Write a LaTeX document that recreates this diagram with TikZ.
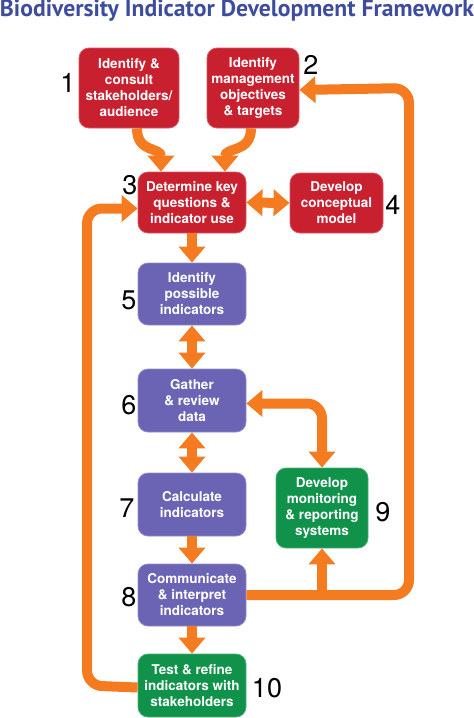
\documentclass[tikz,border=0pt]{standalone}
\usepackage{fontspec}
\usepackage{graphicx}
\usetikzlibrary{arrows.meta}
\newfontfamily\boxfont{TeX Gyre Heros}
\newfontfamily\titlefont{PT Sans}
\definecolor{boxred}{HTML}{C8202F}
\definecolor{boxpurple}{HTML}{6B64B4}
\definecolor{boxgreen}{HTML}{11924A}
\definecolor{arrorange}{HTML}{F47B20}
\definecolor{titleblue}{HTML}{3E4C9E}
\begin{document}
\begin{tikzpicture}[x=1pt, y=-1pt,
  box/.style={rounded corners=10pt, inner sep=0pt, align=center, text=white,
    line width=0.8pt, font=\boxfont\bfseries\fontsize{13.5}{16}\selectfont},
  redbox/.style={box, fill=boxred, draw=boxred!75!white},
  purplebox/.style={box, fill=boxpurple, draw=boxpurple!75!white},
  greenbox/.style={box, fill=boxgreen, draw=boxgreen!75!white},
  num/.style={inner sep=0pt, font=\boxfont\fontsize{27}{27}\selectfont},
  arr/.style={-{Triangle[width=26pt, length=16pt]}, line width=10pt, draw=arrorange},
  darr/.style={{Triangle[width=26pt, length=16pt]}-{Triangle[width=26pt, length=16pt]},
    line width=10pt, draw=arrorange},
  shaft/.style={line width=10pt, draw=arrorange, rounded corners=15pt}
]
  \useasboundingbox (0,0) rectangle (474,718);
  \node[inner sep=0pt, text=titleblue] (title) at (237,11)
    {\resizebox{474pt}{!}{\titlefont\bfseries\fontsize{20}{20}\selectfont Biodiversity Indicator Development Framework}};

  \node[redbox, minimum width=100pt, minimum height=80pt] (b1) at (129,88)
    {Identify \&\\consult\\stakeholders/\\audience};
  \node[redbox, minimum width=92pt, minimum height=80pt] (b2) at (253,88)
    {Identify\\management\\objectives\\\& targets};
  \node[redbox, minimum width=108pt, minimum height=61pt] (b3) at (192,202.5)
    {Determine key\\questions \&\\indicator use};
  \node[redbox, minimum width=93pt, minimum height=60pt] (b4) at (336.5,203)
    {Develop\\conceptual\\model};
  \node[purplebox, minimum width=108pt, minimum height=62pt] (b5) at (192,294)
    {Identify\\possible\\indicators};
  \node[purplebox, minimum width=108pt, minimum height=63pt] (b6) at (192,400.5)
    {Gather\\\& review\\data};
  \node[purplebox, minimum width=108pt, minimum height=63pt] (b7) at (192,504.5)
    {Calculate\\indicators};
  \node[purplebox, minimum width=108pt, minimum height=62pt] (b8) at (192,595)
    {Communicate\\\& interpret\\indicators};
  \node[greenbox, minimum width=92pt, minimum height=80pt] (b9) at (322,508)
    {Develop\\monitoring\\\& reporting\\systems};
  \node[greenbox, minimum width=108pt, minimum height=63pt] (b10) at (192,685.5)
    {Test \& refine\\indicators with\\stakeholders};

  % step numbers
  \node[num] (n1) at (68,83) {1};
  \node[num] (n2) at (311,65) {2};
  \node[num] (n3) at (130,185) {3};
  \node[num] (n4) at (393,205) {4};
  \node[num] (n5) at (129,300) {5};
  \node[num] (n6) at (129,405) {6};
  \node[num] (n7) at (127,508) {7};
  \node[num] (n8) at (129,597) {8};
  \node[num] (n9) at (383,512) {9};
  \node[num] (n10) at (267,688) {10};

  \coordinate (rgt) at (409,0);
  \coordinate (lft) at (87,0);
  \coordinate (b3in) at ([yshift=-6pt]b3.west);

  \draw[arr] ([xshift=8pt]b1.south) .. controls +(0,25) and +(0,-25) .. ([xshift=-31pt]b3.north);
  \draw[arr] ([xshift=-2pt]b2.south) .. controls +(0,25) and +(0,-25) .. ([xshift=33pt]b3.north);
  \draw[darr] (b3.east) -- (b4.west);
  \draw[arr] (b3.south) -- (b5.north);
  \draw[darr] (b5.south) -- (b6.north);
  \draw[darr] (b6.south) -- (b7.north);
  \draw[arr] (b7.south) -- (b8.north);
  \draw[arr] (b8.south) -- (b10.north);
  \draw[darr, rounded corners=15pt] ([yshift=-3pt]b6.east) -| (b9.north);
  \draw[shaft, arr] (b8.east) -- (b8.east -| rgt) -- (rgt |- b2.east) -- ([yshift=-2pt]b2.east);
  \draw[arr] (b9.south |- b8.east) -- (b9.south);
  \draw[shaft, arr] ([yshift=-2pt]b10.west) -- (b10.west -| lft) -- (lft |- b3in) -- (b3in);
\end{tikzpicture}
\end{document}
